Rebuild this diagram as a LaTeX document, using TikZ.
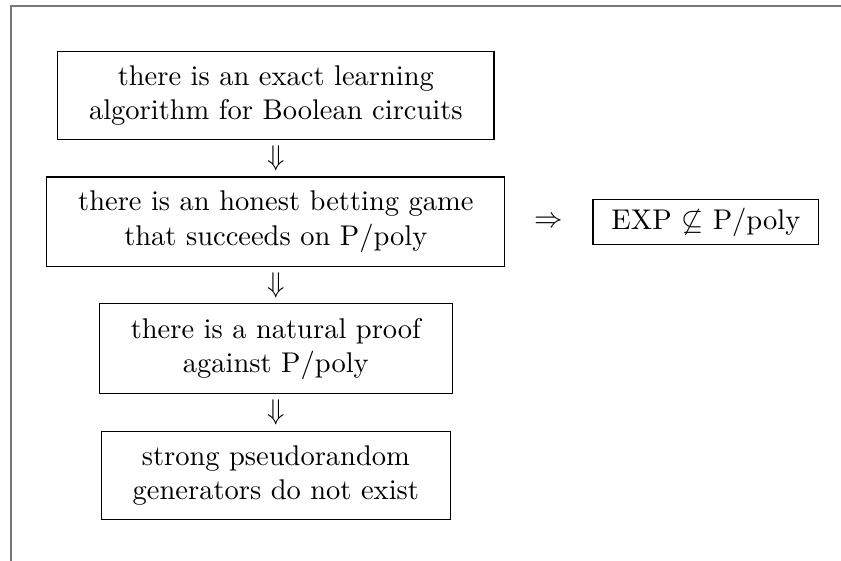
\documentclass[tikz,border=0pt]{standalone}
\usetikzlibrary{calc, positioning}
\definecolor{frameColor}{RGB}{120,120,120}
\tikzset{claim/.style={draw, align=center, inner xsep=11pt, inner ysep=5pt, minimum height=31pt}}
\tikzset{goal/.style={claim, inner xsep=6.5pt, inner ysep=3pt, minimum height=16pt}}
\tikzset{implies/.style={inner sep=0pt}}

\begin{document}
\begin{tikzpicture}[node distance=12.7pt]
	\useasboundingbox (0,0) rectangle (295.1pt,-196.8pt);
	% Frame
	\draw[frameColor, line width=0.6pt] (3.9pt,-196.8pt) |- (295.1pt,-2.1pt);

	% Nodes
		\node (learning) [claim] at (96.8pt,-33.5pt) {there is an exact learning\\ algorithm for Boolean circuits};
		\node (betting) [claim, below=of learning] {there is an honest betting game\\ that succeeds on P/poly};
		\node (natural) [claim, below=of betting] {there is a natural proof\\ against P/poly};
		\node (prg) [claim, below=of natural] {strong pseudorandom\\ generators do not exist};

		\node (separation) [goal] at (247.7pt,-77.9pt) {EXP $\not\subseteq$ P/poly};

	% Connectors
		\node (down1) [implies] at ($(learning.south)!0.5!(betting.north)$) {$\Downarrow$};
		\node (down2) [implies] at ($(betting.south)!0.5!(natural.north)$) {$\Downarrow$};
		\node (down3) [implies] at ($(natural.south)!0.5!(prg.north)$) {$\Downarrow$};
		\node (right1) [implies] at ($(betting.east)!0.5!(separation.west)$) {$\Rightarrow$};

\end{tikzpicture}
\end{document}
